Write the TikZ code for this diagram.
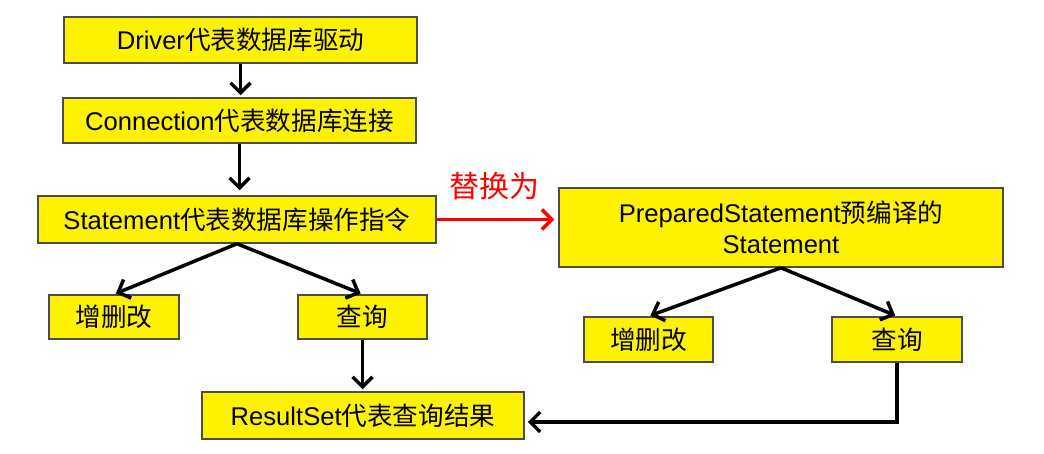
\documentclass[tikz,border=0pt]{standalone}
\usepackage{fontspec}
\setmainfont{Liberation Sans}
\newfontfamily\cjk{Noto Sans CJK SC}
\usetikzlibrary{arrows.meta,calc}
\tikzset{
  box/.style={draw=black!70, line width=1.5pt, fill=yellow, inner sep=0pt, align=center,
    font=\fontsize{25.6}{31}\selectfont},
  conn/.style={line width=3.5pt, -{Straight Barb[length=10pt,width=20pt]}, shorten >=2pt},
  redconn/.style={conn, red},
  lbl/.style={text=red, inner sep=0pt, font=\fontsize{30}{32}\selectfont}
}
\begin{document}
\begin{tikzpicture}[x=1pt,y=-1pt]
\useasboundingbox (0,0) rectangle (1044,454);
\node[box, minimum width=353pt, minimum height=46pt] (drv) at (240.5,40) {Driver\cjk{代表数据库驱动}};
\node[box, minimum width=353pt, minimum height=45pt] (con) at (239.5,120.5) {Connection\cjk{代表数据库连接}};
\node[box, minimum width=398pt, minimum height=47pt] (stm) at (237,219.5) {Statement\cjk{代表数据库操作指令}};
\node[box, minimum width=130pt, minimum height=44pt] (lcud) at (114,317) {\cjk{增删改}};
\node[box, minimum width=129pt, minimum height=44pt] (lq) at (362.5,317) {\cjk{查询}};
\node[box, minimum width=322pt, minimum height=47pt] (rs) at (363,415.5) {ResultSet\cjk{代表查询结果}};
\node[box, minimum width=444pt, minimum height=79pt] (ps) at (781,227.5) {PreparedStatement\cjk{预编译的}\\Statement};
\node[box, minimum width=129pt, minimum height=45pt] (rcud) at (648.5,339.5) {\cjk{增删改}};
\node[box, minimum width=130pt, minimum height=45pt] (rq) at (897,339.5) {\cjk{查询}};
\node[lbl] (rep) at (494,186) {\cjk{替换为}};

\draw[conn] (drv.south) -- (drv.south |- con.north);
\draw[conn, shorten >=5pt] (con.south) -- (con.south |- stm.north);
\draw[conn] (stm.south) -- (lcud.north);
\draw[conn] (stm.south) -- (lq.north);
\draw[conn] (lq.south) -- (lq.south |- rs.north);
\draw[redconn, shorten >=4pt] (stm.east) -- (stm.east -| ps.west);
\draw[conn] (ps.south) -- (rcud.north);
\draw[conn] (ps.south) -- (rq.north);
\coordinate (rsin) at ($(rs.east)+(0,6.5)$);
\draw[conn, shorten >=3pt] (rq.south) |- (rsin);
\end{tikzpicture}
\end{document}
